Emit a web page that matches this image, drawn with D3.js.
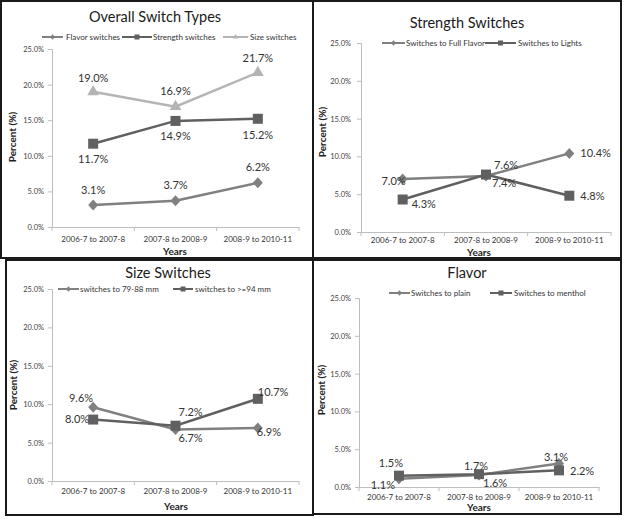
<!DOCTYPE html>
<html><head><meta charset="utf-8">
<script src="https://cdn.jsdelivr.net/npm/d3@7"></script>
<style>
body{margin:0;background:#fff;}
svg{display:block;font-family:Lato,"Open Sans",sans-serif;}
</style></head>
<body><svg id="c" width="625" height="519"></svg>
<script>
const categories = ["2006-7 to 2007-8","2007-8 to 2008-9","2008-9 to 2010-11"];
const yTicks = [0,5,10,15,20,25];

const overallFlavor   = [3.1, 3.7, 6.2];
const overallStrength = [11.7, 14.9, 15.2];
const overallSize     = [19.0, 16.9, 21.7];

const strengthFull   = [7.0, 7.4, 10.4];
const strengthLights = [4.3, 7.6, 4.8];

const size7988 = [9.6, 6.7, 6.9];
const size94   = [8.0, 7.2, 10.7];

const flavorPlain   = [1.1, 1.6, 3.1];
const flavorMenthol = [1.5, 1.7, 2.2];

const C_DIAMOND = "#808080", C_SQUARE = "#606060", C_TRI = "#b4b4b4";

const panels = [
  { box:[1,1,312,257], title:"Overall Switch Types", titleX:155, titleY:22,
    x0:52, x1:299, yTop:49, yBot:227, tickEnd:44, xLabY:242, yearsX:175, yearsY:255, pctX:16, pctY:137,
    legendY:37,
    series:[
      {name:"Flavor switches", data:overallFlavor, shape:"diamond", color:C_DIAMOND, lx:42, lw:21, tx:66,
       labels:[[0,-11,"middle"],[0,-12,"middle"],[0,-12,"middle"]]},
      {name:"Strength switches", data:overallStrength, shape:"square", color:C_SQUARE, lx:122, lw:30, tx:153,
       labels:[[0,19,"middle"],[0,19,"middle"],[0,20,"middle"]]},
      {name:"Size switches", data:overallSize, shape:"triangle", color:C_TRI, lx:223, lw:25, tx:250,
       labels:[[0,-10,"middle"],[0,-12,"middle"],[0,-10,"middle"]]}
    ]},
  { box:[313,1,308,257], title:"Strength Switches", titleX:467, titleY:28,
    x0:361, x1:611, yTop:43, yBot:232, tickEnd:351, xLabY:243, yearsX:479, yearsY:256, pctX:326, pctY:132,
    legendY:43,
    series:[
      {name:"Switches to Full Flavor", data:strengthFull, shape:"diamond", color:C_DIAMOND, lx:382, lw:23, tx:406,
       labels:[[3,6,"end"],[6,11,"start"],[11,4,"start"]]},
      {name:"Switches to Lights", data:strengthLights, shape:"square", color:C_SQUARE, lx:485, lw:31, tx:518,
       labels:[[9,9,"start"],[8,-6,"start"],[11,4,"start"]]}
    ]},
  { box:[6,260,307,255], title:"Size Switches", titleX:168, titleY:278,
    x0:52, x1:299, yTop:289, yBot:481, tickEnd:44, xLabY:494, yearsX:176, yearsY:510, pctX:17, pctY:385,
    legendY:289,
    series:[
      {name:"switches to 79-88 mm", data:size7988, shape:"diamond", color:C_DIAMOND, lx:58, lw:21, tx:80,
       labels:[[0,-5,"end"],[3,12,"start"],[-1,8,"start"]]},
      {name:"switches to >=94 mm", data:size94, shape:"square", color:C_SQUARE, lx:173, lw:20, tx:195,
       labels:[[-4,3,"end"],[3,-10,"start"],[0,-3,"start"]]}
    ]},
  { box:[313,260,308,254], title:"Flavor", titleX:467, titleY:278,
    x0:359, x1:599, yTop:298, yBot:487, tickEnd:351, xLabY:500, yearsX:479, yearsY:511, pctX:325, pctY:390,
    legendY:293,
    series:[
      {name:"Switches to plain", data:flavorPlain, shape:"diamond", color:C_DIAMOND, lx:389, lw:21, tx:411,
       labels:[[-4,10,"end"],[4,12,"start"],[-3,-3,"middle"]]},
      {name:"Switches to menthol", data:flavorMenthol, shape:"square", color:C_SQUARE, lx:490, lw:22, tx:514,
       labels:[[4,-9,"end"],[-3,-4,"middle"],[11,5,"start"]]}
    ]}
];

const svg = d3.select("#c");

function marker(g, shape, x, y, color, size){
  if(shape==="square"){
    g.append("rect").attr("x",x-size/2).attr("y",y-size/2).attr("width",size).attr("height",size).attr("fill",color);
  } else if(shape==="diamond"){
    const w = size*0.5, h = size*0.55;
    g.append("path").attr("d",`M${x},${y-h}L${x+w},${y}L${x},${y+h}L${x-w},${y}Z`).attr("fill",color);
  } else {
    g.append("path").attr("d", d3.symbol().type(d3.symbolTriangle).size(size*size*0.5)()).attr("transform",`translate(${x},${y})`).attr("fill",color);
  }
}

panels.forEach(p=>{
  const g = svg.append("g");
  const [bx,by,bw,bh] = p.box;
  g.append("rect").attr("x",bx).attr("y",by).attr("width",bw).attr("height",bh)
    .attr("fill","none").attr("stroke","#1a1a1a").attr("stroke-width",2);

  const x = d3.scaleBand().domain(categories).range([p.x0,p.x1]);
  const y = d3.scaleLinear().domain([0,25]).range([p.yBot,p.yTop]);

  const ya = g.append("g").attr("transform",`translate(${p.x0},0)`)
    .call(d3.axisLeft(y).tickValues(yTicks).tickSize(4).tickPadding(p.x0-4-p.tickEnd).tickFormat(d=>d.toFixed(1)+"%"));
  ya.selectAll("path,line").attr("stroke","#bdbdbd");
  ya.selectAll("text").attr("font-size",7.5).attr("fill","#444").attr("font-family","Lato,sans-serif");

  const xa = g.append("g").attr("transform",`translate(0,${p.yBot})`)
    .call(d3.axisBottom(x).tickSize(0).tickSizeOuter(0).tickFormat(""));
  xa.selectAll("path").attr("stroke","#bdbdbd");
  const bounds = categories.map(c=>x(c)).concat([p.x1]);
  g.selectAll(null).data(bounds).enter().append("line")
    .attr("x1",d=>d).attr("x2",d=>d).attr("y1",p.yBot).attr("y2",p.yBot+4).attr("stroke","#bdbdbd");
  g.selectAll(null).data(categories).enter().append("text")
    .attr("x",d=>x(d)+x.bandwidth()/2).attr("y",p.xLabY).attr("text-anchor","middle")
    .attr("font-size",8).attr("fill","#333").text(d=>d);

  g.append("text").attr("x",p.titleX).attr("y",p.titleY).attr("text-anchor","middle")
    .attr("font-size",14.5).attr("fill","#1a1a1a").text(p.title);
  g.append("text").attr("x",p.yearsX).attr("y",p.yearsY).attr("text-anchor","middle")
    .attr("font-size",10).attr("font-weight","bold").attr("fill","#222").text("Years");
  g.append("text").attr("transform",`translate(${p.pctX},${p.pctY}) rotate(-90)`).attr("text-anchor","middle")
    .attr("font-size",10).attr("font-weight","bold").attr("fill","#222").text("Percent (%)");

  p.series.forEach(s=>{
    const line = d3.line().x((d,i)=>x(categories[i])+x.bandwidth()/2).y(d=>y(d));
    g.append("path").datum(s.data).attr("d",line).attr("fill","none").attr("stroke",s.color).attr("stroke-width",2.5);
  });
  p.series.forEach(s=>{
    s.data.forEach((v,i)=>{
      const cx = x(categories[i])+x.bandwidth()/2, cy = y(v);
      marker(g, s.shape, cx, cy, s.color, s.shape==="triangle"?11:10);
    });
  });
  p.series.forEach(s=>{
    s.data.forEach((v,i)=>{
      const cx = x(categories[i])+x.bandwidth()/2, cy = y(v);
      const [dx,dy,anc] = s.labels[i];
      g.append("text").attr("x",cx+dx).attr("y",cy+dy).attr("text-anchor",anc)
        .attr("font-size",11).attr("fill","#333").text(v.toFixed(1)+"%");
    });
  });

  p.series.forEach(s=>{
    g.append("line").attr("x1",s.lx).attr("x2",s.lx+s.lw).attr("y1",p.legendY).attr("y2",p.legendY)
      .attr("stroke",s.color).attr("stroke-width",2);
    marker(g, s.shape, s.lx+s.lw/2, p.legendY, s.color, 5);
    g.append("text").attr("x",s.tx).attr("y",p.legendY+3).attr("font-size",8).attr("fill","#333").text(s.name);
  });
});
</script></body></html>
